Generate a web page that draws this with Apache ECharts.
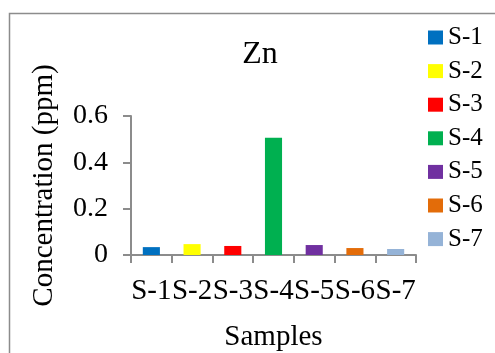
<!DOCTYPE html>
<html><head><meta charset="utf-8">
<script src="https://cdn.jsdelivr.net/npm/echarts@6/dist/echarts.min.js"></script>
<style>html,body{margin:0;padding:0;background:#fff}#c{width:495px;height:353px}</style>
</head><body><div id="c"></div>
<script>
const categories = ['S-1','S-2','S-3','S-4','S-5','S-6','S-7'];
const values = [0.034, 0.047, 0.039, 0.506, 0.043, 0.030, 0.026];
const colors = ['#0070C0','#FFFF00','#FF0000','#00B050','#7030A0','#E36C09','#95B3D7'];
const yTicks = [0, 0.2, 0.4, 0.6];

const chart = echarts.init(document.getElementById('c'), null, {renderer:'canvas'});
const series = categories.map((name, i) => ({
  name: name,
  type: 'bar',
  stack: 'all',
  barWidth: '42%',
  itemStyle: {color: colors[i]},
  data: categories.map((c, j) => j === i ? values[i] : null)
}));
chart.setOption({
  animation: false,
  backgroundColor: '#fff',
  graphic: [{type:'rect', shape:{x:9.5,y:13.5,width:520,height:400}, style:{fill:'none', stroke:'#8c8c8c', lineWidth:1.5}, z:-1}],
  title: {text:'Zn', left:255, top:34, textAlign:'center',
    textStyle:{fontFamily:'Liberation Serif', fontSize:32, fontWeight:'normal', color:'#000'}},
  legend: {orient:'vertical', left:428, top:25, padding:0, itemWidth:15, itemHeight:14, itemGap:8.6,
    icon:'rect', textStyle:{fontFamily:'Liberation Sans Narrow', fontSize:25, color:'#000'},
    data: categories},
  grid: {left:131, top:116, right:79, bottom:97, containLabel:false},
  xAxis: {type:'category', data:categories, name:'Samples', nameLocation:'middle', nameGap:68,
    nameTextStyle:{fontFamily:'Liberation Serif', fontSize:29, color:'#000'},
    axisLine:{lineStyle:{color:'#8c8c8c', width:2}},
    axisTick:{show:true, length:8, lineStyle:{color:'#8c8c8c', width:2}},
    axisLabel:{fontFamily:'Liberation Serif', fontSize:29, color:'#000', margin:22, interval:0}},
  yAxis: {type:'value', min:0, max:0.6, interval:0.2, name:'Concentration (ppm)', nameLocation:'middle', nameGap:72,
    nameTextStyle:{fontFamily:'Liberation Serif', fontSize:29, color:'#000'},
    axisLine:{show:true, lineStyle:{color:'#8c8c8c', width:2}},
    axisTick:{show:true, length:8, lineStyle:{color:'#8c8c8c', width:2}},
    splitLine:{show:false},
    axisLabel:{fontFamily:'Liberation Serif', fontSize:28, color:'#000', margin:23,
      formatter: v => String(yTicks.find(t => Math.abs(t - v) < 1e-9) ?? v)}},
  series: series
});
</script></body></html>
